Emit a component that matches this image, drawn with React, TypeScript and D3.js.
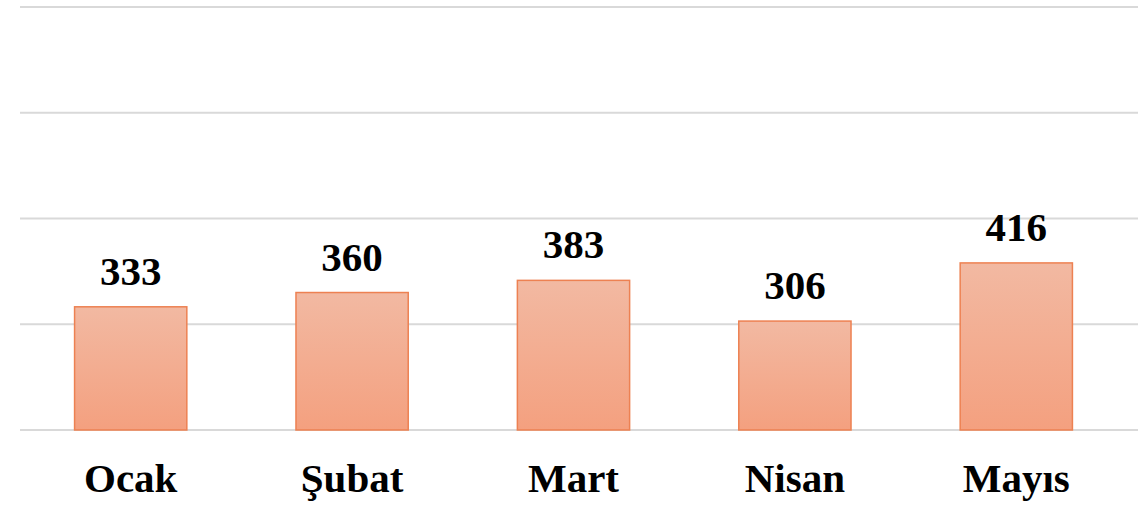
import * as d3 from "d3";
import React, { useEffect, useRef } from "react";

const months = ["Ocak", "Şubat", "Mart", "Nisan", "Mayıs"];
const counts = [333, 360, 383, 306, 416];
const gridTicks = [100, 300, 500, 700, 900];

const width = 1138;
const height = 510;

function drawChart(node: SVGSVGElement) {
  const svg = d3.select(node);
  svg.selectAll("*").remove();

  const margin = { top: 7, right: 0, bottom: 80, left: 20 };

  const x = d3.scaleBand()
    .domain(months)
    .range([margin.left, 1127])
    .paddingInner(0.493)
    .paddingOuter(0.2465);

  const y = d3.scaleLinear()
    .domain([100, 900])
    .range([height - margin.bottom, margin.top]);

  const defs = svg.append("defs");
  const grad = defs.append("linearGradient")
    .attr("id", "barFill")
    .attr("x1", 0).attr("y1", 0).attr("x2", 0).attr("y2", 1);
  grad.append("stop").attr("offset", "0%").attr("stop-color", "#f2b9a2");
  grad.append("stop").attr("offset", "100%").attr("stop-color", "#f4a07f");

  // grid
  svg.append("g")
    .selectAll("line")
    .data(gridTicks)
    .enter().append("line")
    .attr("x1", margin.left)
    .attr("x2", width)
    .attr("y1", d => y(d))
    .attr("y2", d => y(d))
    .attr("stroke", "#d9d9d9")
    .attr("stroke-width", 2);

  // bars
  svg.append("g")
    .selectAll("rect")
    .data(counts)
    .enter().append("rect")
    .attr("x", (d, i) => x(months[i]) as number)
    .attr("y", d => y(d))
    .attr("width", x.bandwidth())
    .attr("height", d => y(100) - y(d))
    .attr("fill", "url(#barFill)")
    .attr("stroke", "#ed8152")
    .attr("stroke-width", 1.5);

  // value labels
  svg.append("g")
    .selectAll("text")
    .data(counts)
    .enter().append("text")
    .attr("x", (d, i) => (x(months[i]) as number) + x.bandwidth() / 2)
    .attr("y", d => y(d) - 22)
    .attr("text-anchor", "middle")
    .style("font-family", "'Liberation Serif', 'Times New Roman', serif")
    .style("font-weight", "bold")
    .style("font-size", "41px")
    .attr("fill", "#000")
    .text(d => d);

  // category labels
  svg.append("g")
    .selectAll("text")
    .data(months)
    .enter().append("text")
    .attr("x", d => (x(d) as number) + x.bandwidth() / 2)
    .attr("y", 492)
    .attr("text-anchor", "middle")
    .style("font-family", "'Liberation Serif', 'Times New Roman', serif")
    .style("font-weight", "bold")
    .style("font-size", "41px")
    .attr("fill", "#000")
    .text(d => d);
}

export default function App() {
  const ref = useRef<SVGSVGElement>(null);
  useEffect(() => {
    if (ref.current) drawChart(ref.current);
  });
  return (
    <div style={{ position: "absolute", left: 0, top: 0, background: "#fff" }}>
      <svg ref={ref} width={width} height={height} style={{ display: "block" }}></svg>
    </div>
  );
}
